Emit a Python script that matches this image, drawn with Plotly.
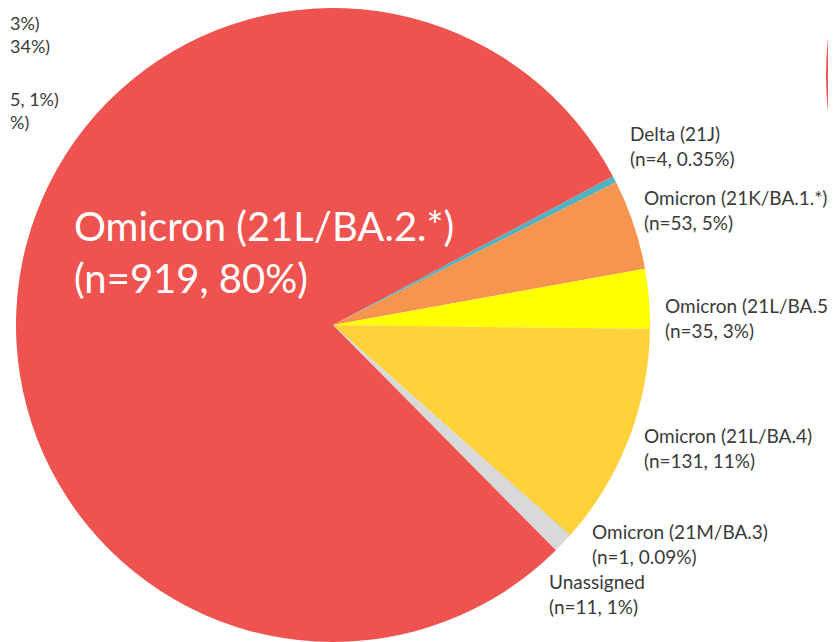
import plotly.graph_objects as go

OFF = 8  # the page body margin shifts the figure by 8px in the screenshot
W, H = 836 - OFF, 642 - OFF

labels = ["Delta (21J)", "Omicron (21K/BA.1.*)", "Omicron (21L/BA.5)", "Omicron (21L/BA.4)",
          "Omicron (21M/BA.3)", "Unassigned", "Omicron (21L/BA.2.*)"]
counts = [4, 53, 35, 131, 1, 11, 919]
pct_text = ["0.35%", "5%", "3%", "11%", "0.09%", "1%", "80%"]
colors = ["#4FB3C2", "#F5954F", "#FFFF00", "#FFD13B", "#CFCFCF", "#D9D9D9", "#EF5350"]

# label anchor positions in screen pixels (left x, middle y)
label_pos = [(628, 146), (642, 210), (663, 318), (642, 448), (590, 544), (547, 594), (72, 252)]

# fragments of labels from a neighbouring chart cut off at the left edge
left_frags = ["3%)<br>34%)", "5, 1%)<br>%)"]
left_frag_y = [35, 110]


def px(x):
    return (x - OFF) / W


def py(y):
    return 1 - (y - OFF) / H


cx, cy, r = 333 - OFF, 325 - OFF, 317
fig = go.Figure()
fig.add_trace(go.Pie(
    labels=labels, values=counts, sort=False, direction="clockwise", rotation=62,
    marker=dict(colors=colors, line=dict(width=0)),
    textinfo="none", hoverinfo="label+value+percent", showlegend=False,
    domain=dict(x=[max(0, (cx - r) / W), min(1, (cx + r) / W)],
                y=[max(0, (H - cy - r) / H), min(1, (H - cy + r) / H)]),
))

FONT = "Lato, Carlito, sans-serif"
ann = []
for i, (lab, n, p) in enumerate(zip(labels, counts, pct_text)):
    x, y = label_pos[i]
    big = (i == len(labels) - 1)
    ann.append(dict(
        x=px(x), y=py(y), xref="paper", yref="paper", xanchor="left", yanchor="middle",
        text=f"{lab}<br>(n={n}, {p})", showarrow=False, align="left",
        font=dict(family=FONT, size=40 if big else 19,
                  color="#FFFFFF" if big else "#3A3A3A"),
    ))
for t, y in zip(left_frags, left_frag_y):
    ann.append(dict(x=0, y=py(y), xref="paper", yref="paper", xanchor="left", yanchor="middle",
                    text=t, showarrow=False, align="left",
                    font=dict(family=FONT, size=18, color="#3A3A3A")))

# partially visible neighbouring pie at the right edge
rr = 345
fig.add_shape(type="circle", xref="paper", yref="paper",
              x0=px(826), x1=px(826 + 2 * rr), y0=py(75 + rr), y1=py(75 - rr),
              fillcolor="#EF5350", line=dict(width=0), layer="above")

fig.update_layout(width=W, height=H, margin=dict(l=0, r=0, t=0, b=0),
                  paper_bgcolor="white", plot_bgcolor="white", annotations=ann)
fig.write_html("out.html")
